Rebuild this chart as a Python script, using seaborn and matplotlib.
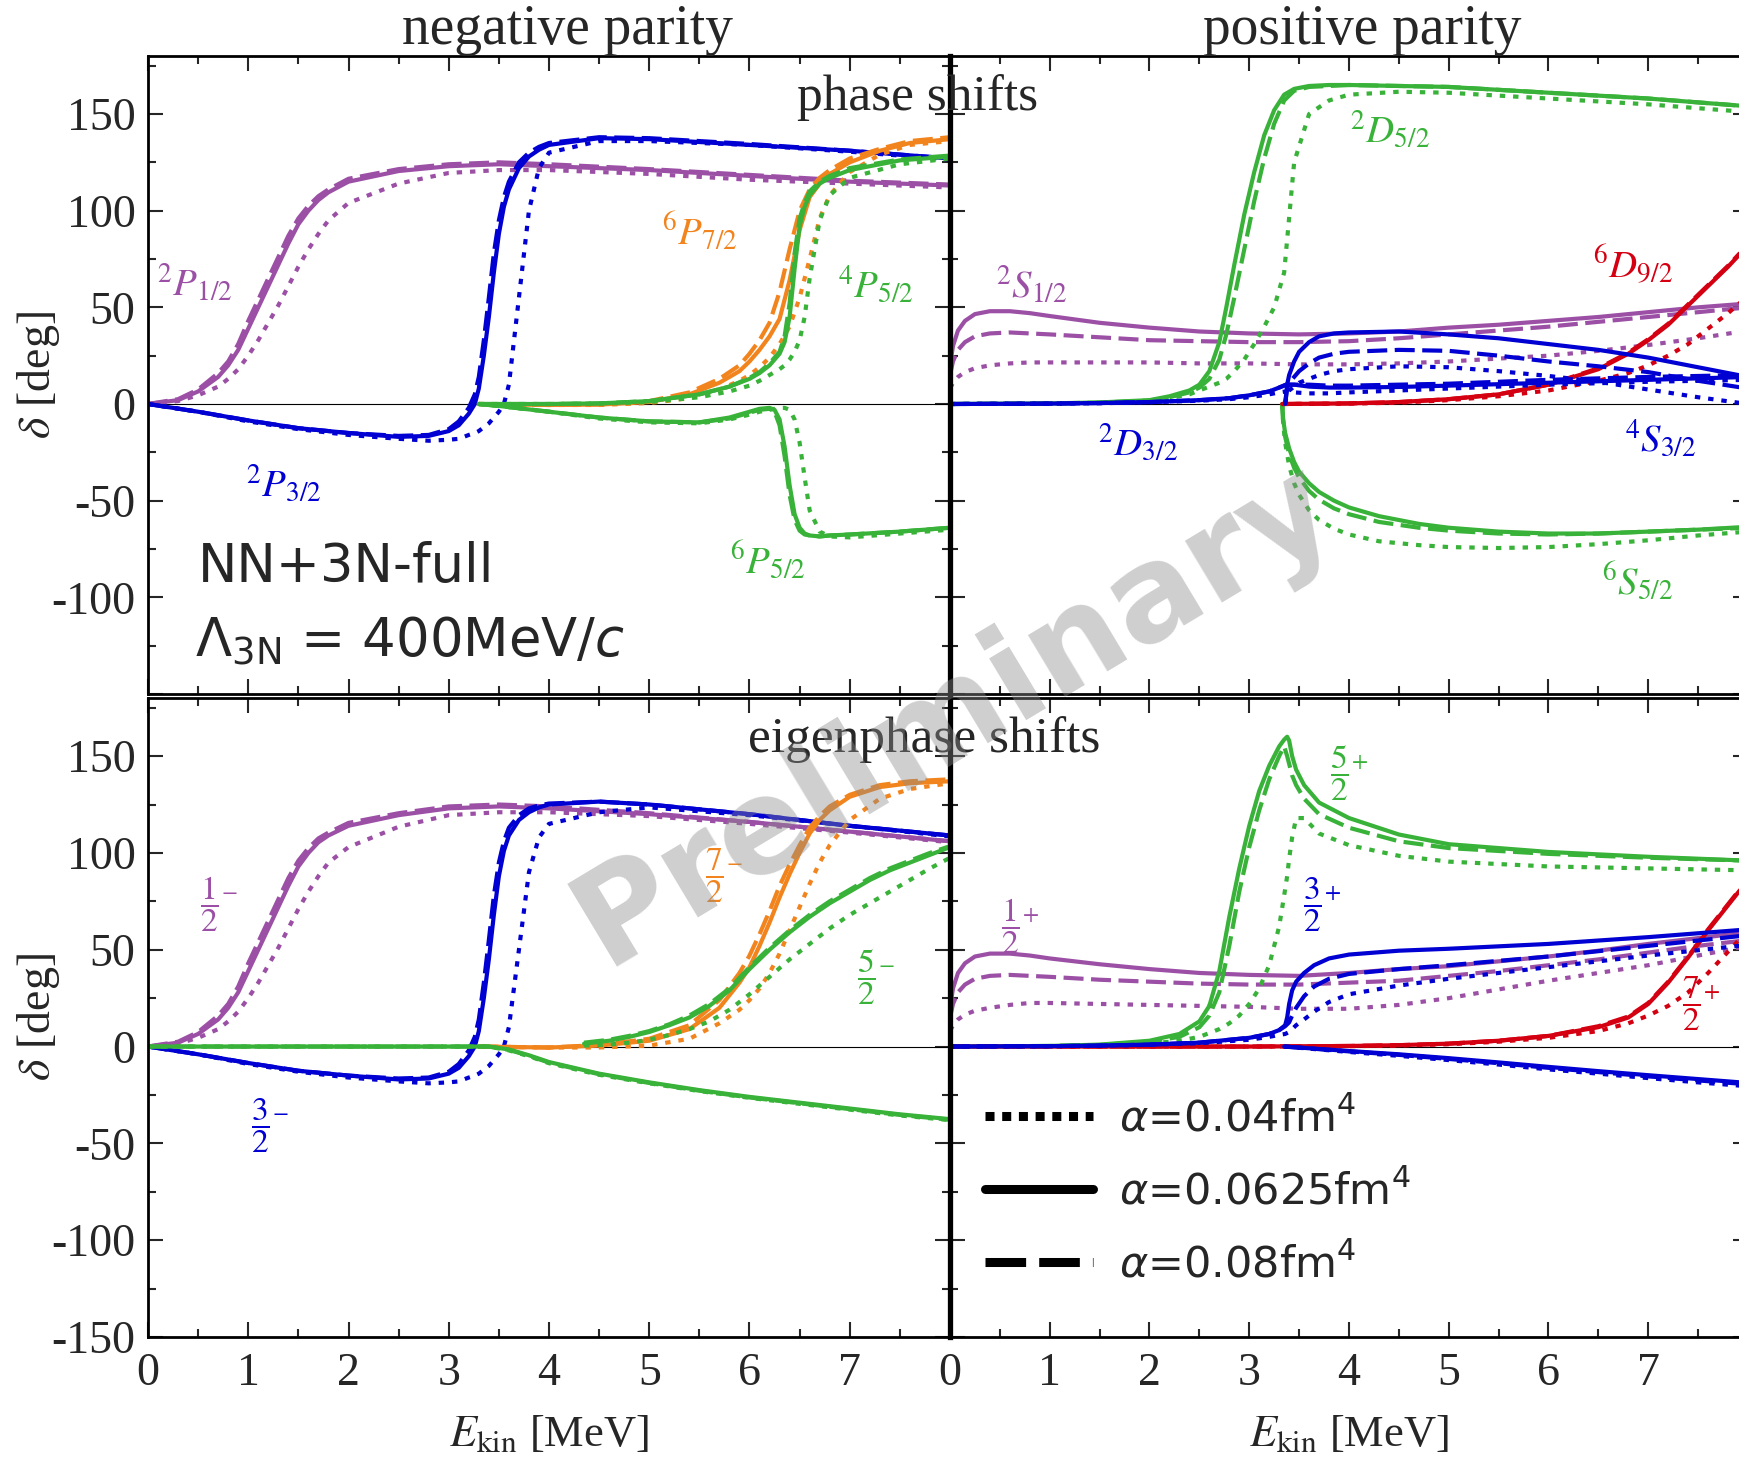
import matplotlib
matplotlib.use("Agg")
import matplotlib.pyplot as plt
from matplotlib.lines import Line2D
from matplotlib.ticker import MultipleLocator
import seaborn as sns

# ---------------------------------------------------------------
# Données (E en MeV, delta en degrés)
# chaque canal : une grille E et trois courbes (alpha = 0.04 / 0.0625 / 0.08)
# ---------------------------------------------------------------

# --- phase shifts, parité négative ---
p12_E = [0, 0.3, 0.5, 0.7, 0.8, 0.9, 1.0, 1.1, 1.2, 1.3, 1.4, 1.5, 1.6, 1.7, 1.8, 2.0, 2.5, 3.0, 3.5, 4.0, 5.0, 6.0, 7.0, 8.0]
p12_dot = [0, 1.5, 4.5, 9, 13, 18, 25, 33, 42, 51, 61, 71, 80, 88, 95, 104, 114, 119.5, 121, 121, 119, 116, 114, 112]
p12_sol = [0, 2, 6.5, 14, 20, 28, 39, 50, 61, 72, 83, 93, 100, 105.5, 109.5, 115, 120.5, 123, 124, 123, 121, 118, 115, 113]
p12_dash = [0, 2.5, 7.5, 16, 22, 31, 43, 54, 65, 76, 87, 96, 102.5, 107.5, 111, 116.5, 121.5, 124, 125, 124, 121.5, 118.5, 115.5, 113.5]

p32_E = [0, 0.5, 1.0, 1.5, 2.0, 2.5, 2.8, 3.0, 3.1, 3.2, 3.26, 3.3, 3.35, 3.4, 3.45, 3.5, 3.55, 3.6, 3.7, 3.8, 3.9, 4.0, 4.5, 5.0, 6.0, 7.0, 8.0]
p32_dot = [0, -4, -9, -13, -16, -18, -19, -18.5, -18, -16, -15, -14, -12, -10, -7, -4, 0, 10, 55, 100, 122, 130, 136, 136, 134, 130.5, 126.5]
p32_sol = [0, -4, -8.5, -12.5, -15, -17, -16.5, -14, -11, -5, 0, 8, 25, 45, 68, 88, 102, 111, 122, 128, 131.5, 134, 137.5, 137, 134, 131, 127]
p32_dash = [0, -4, -8.5, -12.5, -15, -16.5, -16, -13, -9, -2, 5, 14, 33, 55, 78, 95, 107, 115, 125, 130, 133, 135, 138, 137.5, 134.5, 131, 127]

p72_E = [3.3, 4.0, 4.5, 5.0, 5.4, 5.7, 5.9, 6.0, 6.1, 6.2, 6.3, 6.4, 6.5, 6.6, 6.7, 6.8, 7.0, 7.3, 7.6, 8.0]
p72_dot = [0, -0.5, -0.5, 0.5, 3, 7.5, 12, 15, 19, 24, 31, 40, 55, 75, 96, 108, 120, 129, 134, 136]
p72_sol = [0, -0.5, -0.3, 1, 5, 11, 17, 22, 28, 35, 44, 64, 90, 107, 114, 119, 125, 131, 135, 137]
p72_dash = [0, -0.5, -0.2, 1.5, 6, 13, 20, 26, 33, 42, 58, 80, 100, 111, 117, 121, 127, 132, 136, 138]

p52a_E = [3.3, 4.0, 4.5, 5.0, 5.5, 5.8, 6.0, 6.1, 6.2, 6.3, 6.35, 6.4, 6.45, 6.5, 6.55, 6.6, 6.7, 6.8, 7.0, 7.5, 8.0]
p52a_dot = [0, 0, 0.2, 1, 3.5, 6.5, 9.5, 12, 15, 18, 20, 23, 27, 33, 45, 65, 95, 108, 117, 124, 127]
p52a_sol = [0, 0, 0.3, 1.5, 5, 9, 13, 16, 20, 26, 32, 45, 70, 92, 102, 108, 114, 117, 121, 126, 128]
p52a_dash = [0, 0, 0.3, 1.5, 5, 9, 13.5, 16.5, 21, 27, 35, 52, 78, 96, 104, 110, 115, 118, 122, 126.5, 128.5]

p52b_E = [3.3, 3.5, 4.0, 4.5, 5.0, 5.5, 5.8, 6.0, 6.1, 6.2, 6.25, 6.3, 6.35, 6.4, 6.45, 6.5, 6.55, 6.6, 6.7, 6.8, 7.0, 7.5, 8.0]
p52b_dot = [0, -1, -4, -7.5, -9.5, -10, -8, -5.5, -4, -3, -2.5, -2, -2, -3, -8, -20, -38, -55, -66, -68.5, -69, -67, -65]
p52b_sol = [0, -1, -4, -7, -9, -9.5, -7, -4, -2.5, -2, -3, -8, -22, -42, -57, -64, -67, -68, -68.5, -68, -67.5, -66, -64]
p52b_dash = [0, -1, -4, -7, -9, -9.5, -7.5, -4.5, -3, -2.5, -4, -11, -27, -47, -60, -65.5, -67.5, -68, -68.5, -68, -67.5, -66, -64]

# --- phase shifts, parité positive ---
s12_E = [0, 0.03, 0.08, 0.15, 0.25, 0.4, 0.6, 0.8, 1.0, 1.5, 2.0, 2.5, 3.0, 3.5, 4.0, 4.5, 5.0, 5.5, 6.0, 6.5, 7.0, 7.5, 8.0]
s12_dot = [8, 11, 14, 16.5, 18.5, 20, 21, 21.5, 21.5, 21.5, 21.5, 21, 21, 20.5, 20.5, 21, 22, 23.5, 25, 27.5, 30.5, 34, 38]
s12_sol = [20, 30, 38, 43, 46.5, 48, 48, 47, 45.5, 42, 39.5, 37.5, 36.5, 36, 36.5, 37.5, 39.5, 41, 43, 45, 47.5, 50, 52]
s12_dash = [15, 22, 28, 32, 35, 36.5, 37, 36.5, 36, 34.5, 33, 32.5, 32, 32, 32.5, 34, 36, 38, 40, 42.5, 45, 47.5, 50]

d52_E = [0, 1.0, 1.5, 2.0, 2.2, 2.4, 2.5, 2.6, 2.7, 2.77, 2.85, 2.95, 3.05, 3.15, 3.25, 3.35, 3.45, 3.6, 3.8, 4.0, 4.5, 5.0, 6.0, 7.0, 8.0]
d52_dot = [0, 0.2, 0.6, 1.5, 3, 5, 7, 9, 11, 13, 17, 23, 31, 40, 50, 68, 125, 150, 157, 160, 161.5, 161, 158, 155, 151]
d52_sol = [0, 0.3, 0.8, 2, 4, 7, 10, 17, 32, 50, 72, 98, 120, 139, 152, 160, 163, 164.5, 165, 165, 164.5, 164, 161, 158, 154]
d52_dash = [0, 0.3, 0.7, 1.8, 3.5, 6, 8.5, 13, 23, 36, 55, 80, 105, 127, 145, 157, 162, 164, 164.5, 165, 164.5, 164, 161, 158, 154]

d32_E = [0, 1.0, 1.5, 2.0, 2.5, 2.8, 3.0, 3.2, 3.3, 3.37, 3.45, 3.6, 3.8, 4.0, 4.5, 5.0, 6.0, 7.0, 8.0]
d32_dot = [0, 0.2, 0.4, 0.9, 1.7, 2.5, 3.5, 5, 6, 6.5, 6, 5.5, 5.5, 6, 7, 8, 10, 11.5, 12.5]
d32_sol = [0, 0.2, 0.5, 1, 2, 3, 4.5, 6.5, 8.5, 10, 10, 9, 8.5, 8.5, 8.8, 9.5, 11, 12.5, 14]
d32_dash = [0, 0.2, 0.5, 1, 2, 3, 4.5, 6.5, 8.5, 10, 10, 10, 9.5, 9.5, 10, 10.5, 12.5, 14, 15]

s32_E = [3.36, 3.37, 3.38, 3.4, 3.45, 3.5, 3.6, 3.7, 3.85, 4.0, 4.5, 5.0, 5.5, 6.0, 6.5, 7.0, 7.5, 8.0]
s32_dot = [0, 3, 5, 7, 9, 11, 13, 15, 17, 18, 19.5, 19, 17, 14.5, 11.5, 7.5, 3.5, 0]
s32_sol = [0, 5, 10, 15, 22, 27, 32, 35, 36.5, 37, 37.5, 36, 34, 31, 28, 24, 19, 14]
s32_dash = [0, 4, 8, 11, 14, 17, 21, 24, 26, 27, 28, 27.5, 25, 22, 19.5, 16.5, 12, 8]

d92_E = [3.33, 4.0, 4.5, 5.0, 5.5, 6.0, 6.5, 6.8, 7.0, 7.2, 7.4, 7.6, 7.8, 8.0]
d92_dot = [0, 0.2, 0.7, 2, 4, 7, 12, 16, 20, 25, 31, 39, 47, 56]
d92_sol = [0, 0.3, 1, 2.5, 5, 10, 18, 26, 33, 41, 51, 61, 71, 82]
d92_dash = [0, 0.3, 1, 2.5, 5, 10, 18.5, 26.5, 33.5, 41.5, 51.5, 61.5, 71.5, 82.5]

s52_E = [3.33, 3.34, 3.36, 3.4, 3.45, 3.5, 3.6, 3.7, 3.85, 4.0, 4.3, 4.7, 5.0, 5.5, 6.0, 6.5, 7.0, 7.5, 8.0]
s52_dot = [0, -10, -20, -32, -41, -47, -55, -60, -64.5, -67.5, -71, -73, -74, -74.5, -74, -72.5, -70.5, -68, -66]
s52_sol = [0, -8, -15, -23, -30, -35, -41, -45.5, -50, -53.5, -58, -62, -64, -66, -67, -67, -66, -65, -63.5]
s52_dash = [0, -9, -17, -26, -33, -38, -45, -49.5, -54, -57, -61, -64, -65.5, -67, -67.5, -67, -66, -65, -64]

# --- eigenphase shifts, parité négative ---
j12m_dot = [0, 1.5, 4.5, 9, 13, 18, 25, 33, 42, 51, 61, 71, 80, 88, 95, 103, 113.5, 119.5, 121, 121, 119, 115, 110.5, 105.5]
j12m_sol = [0, 2, 6.5, 14, 20, 28, 39, 50, 61, 72, 83, 93, 100, 105.5, 109, 114, 119.5, 123, 124, 123, 120, 116, 111, 106]
j12m_dash = [0, 2.5, 7.5, 16, 22, 31, 43, 54, 65, 76, 87, 96, 102.5, 107.5, 110.5, 115.5, 120.5, 124, 125, 124, 120.5, 116, 111, 106]

j32m_dot = [0, -4, -9, -13, -16, -18, -19, -18.5, -18, -16, -15, -14, -12, -10, -7, -4, 0, 10, 50, 90, 108, 115, 121, 123.5, 119.5, 114, 108.5]
j32m_sol = [0, -4, -8.5, -12.5, -15, -17, -16.5, -14, -11, -5, 0, 8, 25, 45, 68, 88, 101, 109, 117, 121, 123.5, 125, 126.5, 125, 120, 114, 109]
j32m_dash = [0, -4, -8.5, -12.5, -15, -16.5, -16, -13, -9, -2, 5, 14, 33, 55, 78, 95, 106, 113, 119.5, 123, 124.5, 125.5, 126.5, 125, 120, 114, 109]

j72m_dot = [0, -0.5, -0.5, 0.5, 4, 12, 19, 24, 30, 38, 48, 60, 72, 84, 95, 104, 117, 128, 133, 136]
j72m_sol = [0, -0.5, 0.5, 3, 9, 20, 33, 41, 52, 64, 77, 89, 100, 110, 117, 122, 129, 134, 136, 137]
j72m_dash = [0, -0.5, 0.8, 4, 11, 24, 38, 47, 58, 70, 83, 94, 104, 113, 119, 124, 130, 135, 137, 138]

j52m_E = [4.35, 4.6, 4.8, 5.0, 5.2, 5.4, 5.6, 5.8, 6.0, 6.2, 6.4, 6.6, 6.8, 7.0, 7.2, 7.4, 7.6, 7.8, 8.0]
j52m_dot = [0.5, 1, 2, 3.5, 6, 9, 13, 19, 27, 36, 45, 53, 61, 68, 74, 80, 86, 92, 97.5]
j52m_sol = [1.5, 3, 5, 7.5, 11, 15, 21, 29, 40, 50, 59, 67, 74, 80, 86, 91, 95, 99, 103]
j52m_dash = [2, 3.5, 5.5, 8, 11.5, 16, 22, 30, 41, 51, 60, 68, 75, 81, 87, 92, 96, 100, 103.5]

j52n_E = [0, 3.4, 3.6, 3.8, 4.0, 4.5, 5.0, 5.5, 6.0, 6.5, 7.0, 7.5, 8.0]
j52n_dot = [0, 0, -2, -5, -8.6, -14.6, -19, -23, -26.5, -29.6, -32.6, -35.6, -38]
j52n_sol = [0, 0, -1.5, -4.5, -8, -14, -18.5, -22.5, -26, -29, -32, -35, -37.5]
j52n_dash = [0, 0, -1.7, -4.8, -8.3, -14.3, -18.8, -22.8, -26.3, -29.3, -32.3, -35.3, -37.8]

# --- eigenphase shifts, parité positive ---
j12p_dot = [8, 11, 14, 16.5, 18.5, 20, 21.5, 22.5, 22.5, 22, 21.5, 21, 20.5, 19.5, 19.5, 21.5, 25, 29.5, 34, 38, 42, 47, 52]
j12p_sol = [20, 30, 38, 43, 46.5, 48, 48, 47, 45.5, 42.5, 40, 38, 37, 36.5, 38, 40, 41.5, 44, 46.5, 49.5, 53, 56, 59]
j12p_dash = [15, 22, 28, 32, 35, 36.5, 37, 36.5, 36, 34.5, 33.5, 32.5, 32, 32, 33, 34, 36.5, 39, 42, 45, 48.5, 52, 55]

j52p_E = [0, 1.0, 1.5, 2.0, 2.3, 2.5, 2.6, 2.7, 2.8, 2.9, 3.0, 3.1, 3.2, 3.3, 3.35, 3.38, 3.4, 3.43, 3.47, 3.55, 3.7, 4.0, 4.5, 5.0, 6.0, 7.0, 8.0]
j52p_dot = [0, 0.2, 0.5, 1.5, 3, 5, 7, 9, 12, 16, 22, 30, 42, 62, 78, 88, 97, 108, 118, 118, 110, 104, 98.5, 95.5, 93, 92, 91]
j52p_sol = [0, 0.3, 1, 3, 6.5, 13, 21, 39, 67, 92, 114, 132, 145, 155, 158.5, 160, 158, 150, 143, 135, 126, 118, 109.5, 104.5, 100.5, 98, 96]
j52p_dash = [0, 0.3, 0.8, 2.5, 5, 10, 16, 28, 52, 80, 103, 122, 138, 150, 155, 150, 146, 140, 135, 128, 120, 113, 106, 102.5, 99.5, 97.5, 96]

j32p_E = [0, 1.0, 1.5, 2.0, 2.5, 3.0, 3.2, 3.3, 3.36, 3.38, 3.4, 3.43, 3.47, 3.55, 3.65, 3.8, 4.0, 4.5, 5.0, 6.0, 7.0, 8.0]
j32p_dot = [0, 0.2, 0.4, 0.9, 1.7, 3.5, 5, 6, 6.5, 7, 7.5, 9, 11, 14, 18, 23, 27, 31.5, 35, 41, 47, 52.5]
j32p_sol = [0, 0.2, 0.5, 1, 2, 4.5, 6.5, 8.5, 11, 15, 22, 29, 33.5, 38, 42, 45.5, 47.5, 49.5, 50.5, 53, 56.5, 60.5]
j32p_dash = [0, 0.2, 0.5, 1, 2, 4.5, 6.5, 8.5, 10.5, 11.5, 12.5, 16, 20, 26, 31, 35, 37.5, 40, 42, 46.5, 52, 57.5]

j32q_E = [3.35, 4.0, 4.5, 5.0, 5.5, 6.0, 6.5, 7.0, 7.5, 8.0]
j32q_dot = [0, -2.8, -4.8, -7, -9.3, -11.8, -14, -16.3, -18.5, -20.5]
j32q_sol = [0, -2.3, -4, -6, -8.2, -10.5, -12.7, -14.8, -16.8, -18.8]
j32q_dash = [0, -2.5, -4.3, -6.4, -8.6, -11, -13.2, -15.4, -17.5, -19.5]

j72p_E = [0, 3.0, 4.0, 4.5, 5.0, 5.5, 6.0, 6.5, 6.8, 7.0, 7.2, 7.4, 7.6, 7.8, 8.0]
j72p_dot = [0, 0, 0.2, 0.5, 1.2, 2.5, 4.5, 8, 12, 16, 21, 28, 38, 49, 60]
j72p_sol = [0, 0, 0.3, 0.7, 1.5, 3, 5.5, 10, 15, 22, 33, 46, 60, 73, 86]
j72p_dash = [0, 0, 0.3, 0.7, 1.5, 3, 5.5, 10.5, 15.5, 22.5, 33.5, 46.5, 60.5, 73.5, 86.5]

alpha_labels = [r"$\alpha$=0.04fm$^4$", r"$\alpha$=0.0625fm$^4$", r"$\alpha$=0.08fm$^4$"]

# ---------------------------------------------------------------
# Style
# ---------------------------------------------------------------
PURPLE = "#9b50a5"
BLUE = "#0000d2"
GREEN = "#39b239"
ORANGE = "#f2841e"
RED = "#d40012"

LW = 3.0
DOT = (0, (1.3, 1.9))
DASH = (0, (4.8, 1.8))

sns.set_style("ticks")
plt.rcParams["font.family"] = ["Liberation Serif", "DejaVu Serif"]
plt.rcParams["mathtext.fontset"] = "stix"
plt.rcParams["axes.unicode_minus"] = False

W, H = 1739, 1457


def box(x0, y0, x1, y1):
    """position d'un axe à partir de pixels (haut gauche)"""
    return [x0 / W, 1 - y1 / H, (x1 - x0) / W, (y1 - y0) / H]


def trace(ax, e, dot, sol, dash, color):
    """trace les trois valeurs de alpha pour un canal"""
    for y, ls in ((dot, DOT), (sol, "-"), (dash, DASH)):
        sns.lineplot(x=e, y=y, ax=ax, color=color, linewidth=LW, linestyle=ls,
                     estimator=None, sort=False, legend=False)


def etiquette(ax, x, y, s, color, size=28):
    ax.text(x, y, s, color=color, fontsize=size, ha="left", va="center")


fig = plt.figure(figsize=(W / 100, H / 100), dpi=100)
ax_tl = fig.add_axes(box(148, 56, 950, 694))
ax_tr = fig.add_axes(box(950, 56, 1748, 694))
ax_bl = fig.add_axes(box(148, 698, 950, 1337))
ax_br = fig.add_axes(box(950, 698, 1748, 1337))

for ax in (ax_tl, ax_tr, ax_bl, ax_br):
    ax.axhline(0, color="k", lw=0.8, zorder=1)

# phase shifts -
trace(ax_tl, p12_E, p12_dot, p12_sol, p12_dash, PURPLE)
trace(ax_tl, p32_E, p32_dot, p32_sol, p32_dash, BLUE)
trace(ax_tl, p72_E, p72_dot, p72_sol, p72_dash, ORANGE)
trace(ax_tl, p52a_E, p52a_dot, p52a_sol, p52a_dash, GREEN)
trace(ax_tl, p52b_E, p52b_dot, p52b_sol, p52b_dash, GREEN)

# phase shifts +
trace(ax_tr, s12_E, s12_dot, s12_sol, s12_dash, PURPLE)
trace(ax_tr, d52_E, d52_dot, d52_sol, d52_dash, GREEN)
trace(ax_tr, s52_E, s52_dot, s52_sol, s52_dash, GREEN)
trace(ax_tr, d92_E, d92_dot, d92_sol, d92_dash, RED)
trace(ax_tr, d32_E, d32_dot, d32_sol, d32_dash, BLUE)
trace(ax_tr, s32_E, s32_dot, s32_sol, s32_dash, BLUE)

# eigenphases -
trace(ax_bl, p12_E, j12m_dot, j12m_sol, j12m_dash, PURPLE)
trace(ax_bl, p32_E, j32m_dot, j32m_sol, j32m_dash, BLUE)
trace(ax_bl, p72_E, j72m_dot, j72m_sol, j72m_dash, ORANGE)
trace(ax_bl, j52n_E, j52n_dot, j52n_sol, j52n_dash, GREEN)
trace(ax_bl, j52m_E, j52m_dot, j52m_sol, j52m_dash, GREEN)

# eigenphases +
trace(ax_br, s12_E, j12p_dot, j12p_sol, j12p_dash, PURPLE)
trace(ax_br, j52p_E, j52p_dot, j52p_sol, j52p_dash, GREEN)
trace(ax_br, j72p_E, j72p_dot, j72p_sol, j72p_dash, RED)
trace(ax_br, j32q_E, j32q_dot, j32q_sol, j32q_dash, BLUE)
trace(ax_br, j32p_E, j32p_dot, j32p_sol, j32p_dash, BLUE)

# axes
for ax in (ax_tl, ax_tr, ax_bl, ax_br):
    ax.set_xlim(0, 8)
    ax.set_ylim(-150, 180)
    ax.set_xlabel("")
    ax.set_ylabel("")
    ax.set_xticks(range(0, 9))
    ax.set_yticks(range(-150, 151, 50))
    ax.xaxis.set_minor_locator(MultipleLocator(0.5))
    ax.yaxis.set_minor_locator(MultipleLocator(25))
    ax.tick_params(which="both", direction="in", top=True, right=True,
                   bottom=True, left=True, width=1.5, labelsize=33)
    ax.tick_params(which="major", length=11)
    ax.tick_params(which="minor", length=5.5)
    ax.tick_params(axis="x", pad=11)
    ax.tick_params(axis="y", pad=9)
    for sp in ax.spines.values():
        sp.set_linewidth(2.0)
        sp.set_color("k")
    ax.set_facecolor("none")

ax_tl.set_xticklabels([])
ax_tr.set_xticklabels([])
ax_tr.set_yticklabels([])
ax_br.set_yticklabels([])
ax_tl.set_yticklabels(["", "-100", "-50", "0", "50", "100", "150"])
ax_bl.set_xticklabels(["0", "1", "2", "3", "4", "5", "6", "7", ""])
ax_br.set_xticklabels(["0", "1", "2", "3", "4", "5", "6", "7", ""])
for ax in (ax_tr, ax_br):
    ax.spines["left"].set_linewidth(3.8)

# étiquettes des canaux
etiquette(ax_tl, 0.09, 62, r"$^{2}P_{1/2}$", PURPLE)
etiquette(ax_tl, 0.98, -42, r"$^{2}P_{3/2}$", BLUE)
etiquette(ax_tl, 5.13, 88.5, r"$^{6}P_{7/2}$", ORANGE)
etiquette(ax_tl, 6.88, 61, r"$^{4}P_{5/2}$", GREEN)
etiquette(ax_tl, 5.81, -81, r"$^{6}P_{5/2}$", GREEN)

etiquette(ax_tr, 0.46, 61, r"$^{2}S_{1/2}$", PURPLE)
etiquette(ax_tr, 4.01, 141, r"$^{2}D_{5/2}$", GREEN)
etiquette(ax_tr, 6.45, 72, r"$^{6}D_{9/2}$", RED)
etiquette(ax_tr, 1.48, -20.7, r"$^{2}D_{3/2}$", BLUE)
etiquette(ax_tr, 6.77, -19, r"$^{4}S_{3/2}$", BLUE)
etiquette(ax_tr, 6.54, -92, r"$^{6}S_{5/2}$", GREEN)

etiquette(ax_bl, 0.52, 73.6, r"$\dfrac{1}{2}^{-}$", PURPLE, 24)
etiquette(ax_bl, 1.03, -41, r"$\dfrac{3}{2}^{-}$", BLUE, 24)
etiquette(ax_bl, 5.56, 88, r"$\dfrac{7}{2}^{-}$", ORANGE, 24)
etiquette(ax_bl, 7.07, 36, r"$\dfrac{5}{2}^{-}$", GREEN, 24)

etiquette(ax_br, 0.51, 62, r"$\dfrac{1}{2}^{+}$", PURPLE, 24)
etiquette(ax_br, 3.81, 141, r"$\dfrac{5}{2}^{+}$", GREEN, 24)
etiquette(ax_br, 3.54, 73, r"$\dfrac{3}{2}^{+}$", BLUE, 24)
etiquette(ax_br, 7.34, 22, r"$\dfrac{7}{2}^{+}$", RED, 24)

# texte en sans-serif
ax_tl.text(0.5, -92, "NN+3N-full", fontsize=38, family="DejaVu Sans",
           ha="left", va="baseline")
ax_tl.text(0.47, -131, r"$\Lambda_{\rm 3N}$ = 400MeV/$c$", fontsize=38,
           family="DejaVu Sans", math_fontfamily="dejavusans",
           ha="left", va="baseline")

# légende des alpha
handles = [Line2D([], [], color="k", lw=6.5, linestyle=(0, (1, 0.85))),
           Line2D([], [], color="k", lw=6.5, linestyle="-"),
           Line2D([], [], color="k", lw=6.5, linestyle=(0, (4.5, 1.45)))]
leg = ax_br.legend(handles, alpha_labels, loc="center left",
                   bbox_to_anchor=(0.044, 0.227), frameon=False,
                   fontsize=31, handlelength=2.5, handletextpad=0.62,
                   labelspacing=0.72, borderpad=0, borderaxespad=0)
for t in leg.get_texts():
    t.set_family("DejaVu Sans")
    t.set_math_fontfamily("dejavusans")

# titres
fig.text(567 / W, 1 - 44 / H, "negative parity", fontsize=40,
         ha="center", va="baseline")
fig.text(1362 / W, 1 - 44 / H, "positive parity", fontsize=40,
         ha="center", va="baseline")
fig.text(918 / W, 1 - 110 / H, "phase shifts", fontsize=37,
         ha="center", va="baseline")
fig.text(924 / W, 1 - 752 / H, "eigenphase shifts", fontsize=37,
         ha="center", va="baseline")

# axes labels
for yc in (375, 1017):
    fig.text(39 / W, 1 - yc / H, r"$\delta$ [deg]", fontsize=33,
             rotation=90, ha="center", va="center")
for xc in (549, 1349):
    fig.text(xc / W, 1 - 1446 / H, r"$E_{\rm kin}$ [MeV]", fontsize=32,
             ha="center", va="baseline")

# filigrane
fig.text(955 / W, 1 - 714 / H, "Preliminary", fontsize=95, fontweight="bold",
         family="DejaVu Sans", color="0.55", alpha=0.42, rotation=31,
         ha="center", va="center", zorder=10)

fig.savefig("out.png", dpi=100)
